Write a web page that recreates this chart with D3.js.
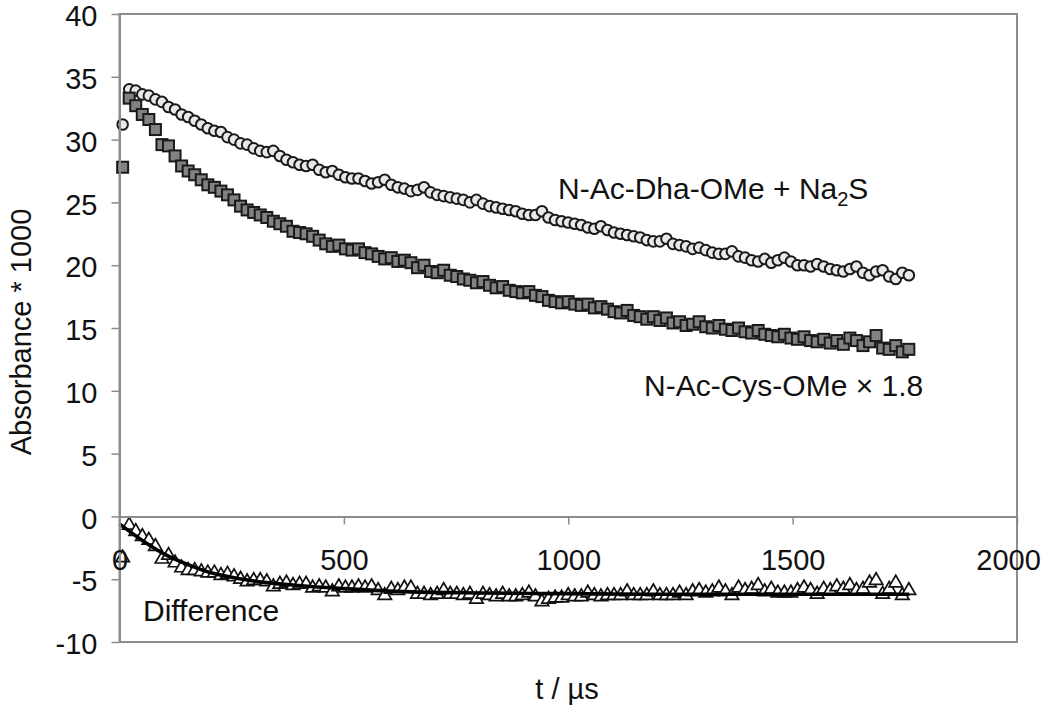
<!DOCTYPE html>
<html><head><meta charset="utf-8">
<script src="https://cdn.jsdelivr.net/npm/d3@7"></script>
<style>
body{margin:0;background:#fff;}
text{font-family:"Liberation Sans",Arial,Helvetica,sans-serif;fill:#111;}
</style>
</head><body>
<svg id="chart" width="1050" height="710"></svg>
<script>
// ---- data ----
const startTime = 7;      // µs, first sample
const sampleStep = 14.6;  // µs between samples

const dhaValues = [
31.2,34.0,33.9,33.6,33.5,33.2,33.0,32.6,32.4,32.0,
31.8,31.5,31.2,30.9,30.7,30.6,30.2,30.0,29.7,29.6,
29.3,29.1,29.0,29.1,28.7,28.4,28.2,28.0,27.9,28.0,
27.6,27.4,27.5,27.2,27.0,26.9,26.9,26.7,26.5,26.6,
26.8,26.4,26.2,26.1,25.9,26.0,26.2,25.8,25.6,25.5,
25.4,25.3,25.2,25.0,25.2,24.9,24.7,24.6,24.5,24.4,
24.3,24.1,24.0,24.0,24.3,23.8,23.6,23.5,23.4,23.3,
23.2,23.0,22.9,23.1,22.8,22.6,22.5,22.4,22.3,22.2,
22.0,21.9,21.9,22.1,21.7,21.6,21.5,21.3,21.4,21.2,
21.0,20.9,20.9,21.1,20.7,20.6,20.4,20.3,20.5,20.2,
20.4,20.6,20.3,20.0,20.0,19.9,20.1,19.9,19.7,19.6,
19.5,19.7,19.9,19.4,19.2,19.5,19.6,19.1,18.9,19.4,
19.2];

const cysValues = [
27.8,33.3,32.7,32.0,31.6,30.8,29.6,29.5,28.7,27.9,
27.5,27.2,26.8,26.4,26.2,25.9,25.6,25.2,24.7,24.4,
24.2,24.0,23.8,23.5,23.3,23.1,22.7,22.6,22.5,22.3,
22.0,21.7,21.5,21.6,21.3,21.2,21.3,21.0,20.9,20.7,
20.5,20.6,20.3,20.4,20.2,19.8,20.0,19.5,19.4,19.6,
19.2,19.1,18.9,18.8,18.6,18.7,18.4,18.2,18.3,18.0,
17.9,17.8,17.9,17.6,17.5,17.2,17.1,17.0,17.1,16.9,
16.8,16.9,16.6,16.7,16.5,16.3,16.2,16.4,16.0,15.9,
15.7,15.9,15.6,15.8,15.4,15.5,15.2,15.3,15.5,15.1,
15.0,15.2,14.9,14.8,15.0,14.7,14.6,14.8,14.5,14.4,
14.3,14.5,14.2,14.1,14.3,14.0,13.9,14.1,13.8,14.0,
13.7,14.2,14.0,13.6,13.9,14.4,13.4,13.3,13.6,13.1,
13.3];

const diffValues = [
-3.3,-0.7,-1.2,-1.6,-1.9,-2.4,-3.4,-3.1,-3.7,-4.1,
-4.3,-4.3,-4.4,-4.5,-4.5,-4.7,-4.6,-4.8,-5.0,-5.2,
-5.1,-5.1,-5.2,-5.6,-5.4,-5.3,-5.5,-5.4,-5.4,-5.7,
-5.6,-5.7,-6.0,-5.6,-5.7,-5.7,-5.6,-5.7,-5.6,-5.9,
-6.3,-5.8,-5.9,-5.7,-5.7,-6.2,-6.2,-6.3,-6.2,-5.9,
-6.2,-6.2,-6.3,-6.2,-6.6,-6.2,-6.3,-6.4,-6.2,-6.4,
-6.4,-6.3,-6.1,-6.4,-6.8,-6.6,-6.5,-6.5,-6.3,-6.4,
-6.4,-6.1,-6.3,-6.4,-6.3,-6.3,-6.3,-6.0,-6.3,-6.3,
-6.3,-6.0,-6.3,-6.3,-6.3,-6.1,-6.3,-6.0,-5.9,-6.1,
-6.0,-5.7,-6.0,-6.3,-5.7,-5.9,-5.8,-5.5,-6.0,-5.8,
-6.1,-6.1,-6.1,-5.9,-5.7,-5.9,-6.2,-5.8,-5.9,-5.6,
-5.8,-5.5,-5.9,-5.8,-5.3,-5.1,-6.2,-5.8,-5.3,-6.3,
-5.9];

const fitTimes  = [0, 50, 100, 150, 200, 250, 300, 400, 500, 600, 800, 1000, 1200, 1400, 1600, 1760];
const fitValues = [-0.6, -1.9, -3.0, -3.8, -4.45, -4.85, -5.15, -5.5, -5.75, -5.95, -6.1, -6.15, -6.2, -6.2, -6.2, -6.2];

const xTicks = [0, 500, 1000, 1500, 2000];
const yTicks = [-10, -5, 0, 5, 10, 15, 20, 25, 30, 35, 40];
const xTitle = "t / µs";
const yTitle = "Absorbance * 1000";

// ---- drawing ----
const svg = d3.select("#chart");
const x = d3.scaleLinear().domain([0, 2000]).range([119.5, 1017]);
const y = d3.scaleLinear().domain([-10, 40]).range([642, 14]);
const times = d3.range(dhaValues.length).map(i => startTime + i * sampleStep);
const axisGray = "#8c8c8c";
const plainFmt = d => String(d);

// plot frame
svg.append("rect")
  .attr("x", x(0)).attr("y", y(40))
  .attr("width", x(2000) - x(0)).attr("height", y(-10) - y(40))
  .attr("fill", "none").attr("stroke", axisGray).attr("stroke-width", 2);

// series: circles (Dha + Na2S)
svg.append("g").selectAll("circle").data(dhaValues).join("circle")
  .attr("cx", (d, i) => x(times[i])).attr("cy", d => y(d)).attr("r", 5.3)
  .attr("fill", "#e9e9e9").attr("stroke", "#1a1a1a").attr("stroke-width", 2);

// series: squares (Cys x 1.8)
const sq = 11;
svg.append("g").selectAll("rect").data(cysValues).join("rect")
  .attr("x", (d, i) => x(times[i]) - sq / 2).attr("y", d => y(d) - sq / 2)
  .attr("width", sq).attr("height", sq)
  .attr("fill", "#828282").attr("stroke", "#1a1a1a").attr("stroke-width", 2);

// series: triangles (Difference)
const tri = d3.symbol().type(d3.symbolTriangle).size(78);
svg.append("g").selectAll("path").data(diffValues).join("path")
  .attr("d", tri)
  .attr("transform", (d, i) => `translate(${x(times[i])},${y(d)})`)
  .attr("fill", "#fff").attr("stroke", "#111").attr("stroke-width", 1.7);

// fit line
const fitLine = d3.line().x((d, i) => x(fitTimes[i])).y(d => y(d)).curve(d3.curveMonotoneX);
svg.append("path").datum(fitValues).attr("d", fitLine)
  .attr("fill", "none").attr("stroke", "#000").attr("stroke-width", 3.6);

// y axis
const yAxis = svg.append("g").attr("transform", `translate(${x(0)},0)`)
  .call(d3.axisLeft(y).tickValues(yTicks).tickFormat(plainFmt).tickSize(8).tickSizeOuter(0).tickPadding(14));
yAxis.attr("font-family", null);
yAxis.select(".domain").attr("stroke", axisGray).attr("stroke-width", 2);
yAxis.selectAll(".tick line").attr("stroke", axisGray).attr("stroke-width", 1.5);
yAxis.selectAll(".tick text").attr("font-size", 29).attr("fill", "#111").attr("dy", "0.4em");

// x axis at zero
const xAxis = svg.append("g").attr("transform", `translate(0,${y(0)})`)
  .call(d3.axisBottom(x).tickValues(xTicks).tickFormat(plainFmt).tickSize(8).tickSizeOuter(0).tickPadding(25));
xAxis.attr("font-family", null);
xAxis.select(".domain").attr("stroke", axisGray).attr("stroke-width", 2);
xAxis.selectAll(".tick line").attr("stroke", axisGray).attr("stroke-width", 1.5);
xAxis.selectAll(".tick text").attr("font-size", 29).attr("fill", "#111")
  .attr("dx", d => d === 2000 ? -9 : 0);

// axis titles
svg.append("text").attr("x", 567).attr("y", 699).attr("text-anchor", "middle")
  .attr("font-size", 29).text(xTitle);
svg.append("text").attr("transform", "translate(31,332) rotate(-90)").attr("text-anchor", "middle")
  .attr("font-size", 29).text(yTitle);

// annotations
const a1 = svg.append("text").attr("x", 558).attr("y", 199).attr("font-size", 30);
a1.append("tspan").text("N-Ac-Dha-OMe + Na");
a1.append("tspan").attr("font-size", 20).attr("dy", 7).text("2");
a1.append("tspan").attr("dy", -7).text("S");
svg.append("text").attr("x", 644).attr("y", 396).attr("font-size", 30).text("N-Ac-Cys-OMe × 1.8");
svg.append("text").attr("x", 143).attr("y", 621).attr("font-size", 30).text("Difference");
</script>
</body></html>
